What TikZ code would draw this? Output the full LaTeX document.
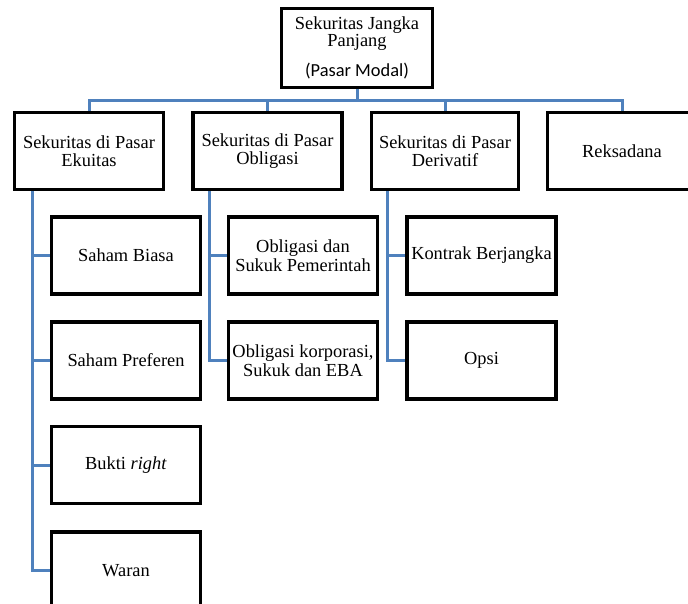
\documentclass[tikz,border=0pt]{standalone}
\usepackage{fontspec}
\setmainfont{Liberation Serif}
\newfontfamily\calfont{Carlito}
\begin{document}
\begin{tikzpicture}[x=1pt,y=-1pt,
  box/.style={draw=black,line width=2.4pt,fill=white,minimum width=148pt,minimum height=76pt,inner sep=0pt,align=center,
    font=\fontsize{18.4}{18.5}\selectfont},
  conn/.style={draw=linkblue,line width=3pt}]
\definecolor{linkblue}{RGB}{79,129,189}
\useasboundingbox (0,0) rectangle (688,603);
\clip (0,0) rectangle (688,603);
% nodes
\node[box,minimum width=150pt,minimum height=78pt,font=\fontsize{18.4}{17}\selectfont] (top) at (357,48) {Sekuritas Jangka\\Panjang\\[12pt]{\calfont (Pasar Modal)}};
\node[box] (ek) at (89,151) {Sekuritas di Pasar\\Ekuitas};
\node[box] (ob) at (267.5,151) {Sekuritas di Pasar\\Obligasi};
\node[box,minimum width=146pt] (dv) at (445,151) {Sekuritas di Pasar\\Derivatif};
\node[box] (rk) at (622,151) {Reksadana};
\node[box] (sb) at (126,255.5) {Saham Biasa};
\node[box] (sp) at (126,360.5) {Saham Preferen};
\node[box] (br) at (126,465) {Bukti \textit{right}};
\node[box] (wr) at (126,570.5) {Waran};
\node[box] (os) at (303,255.5) {Obligasi dan\\Sukuk Pemerintah};
\node[box] (ok) at (303,360.5) {Obligasi korporasi,\\Sukuk dan EBA};
\node[box] (kb) at (481.5,255.5) {Kontrak Berjangka};
\node[box] (op) at (481.5,360.5) {Opsi};
% helper coordinates
\coordinate (bar) at (0,100);
\coordinate (sE) at (32,0);
\coordinate (sO) at (209,0);
\coordinate (sD) at (387,0);
% connectors
\path[conn] (top.south) -- (top.south |- bar);
\path[conn] (ek.north) -- (ek.north |- bar) -- (rk.north |- bar) -- (rk.north);
\path[conn] (ob.north) -- (ob.north |- bar);
\path[conn] (dv.north) -- (dv.north |- bar);
\path[conn] (ek.south -| sE) |- (sb.west);
\path[conn] (ek.south -| sE) |- (sp.west);
\path[conn] (ek.south -| sE) |- (br.west);
\path[conn] (ek.south -| sE) |- (wr.west);
\path[conn] (ob.south -| sO) |- (os.west);
\path[conn] (ob.south -| sO) |- (ok.west);
\path[conn] (dv.south -| sD) |- (kb.west);
\path[conn] (dv.south -| sD) |- (op.west);
% redraw box borders over connector ends
\foreach \n in {top,ek,ob,dv,rk,sb,sp,br,wr,os,ok,kb,op}{
  \draw[black,line width=2.4pt] (\n.north west) rectangle (\n.south east);
}
\end{tikzpicture}
\end{document}
